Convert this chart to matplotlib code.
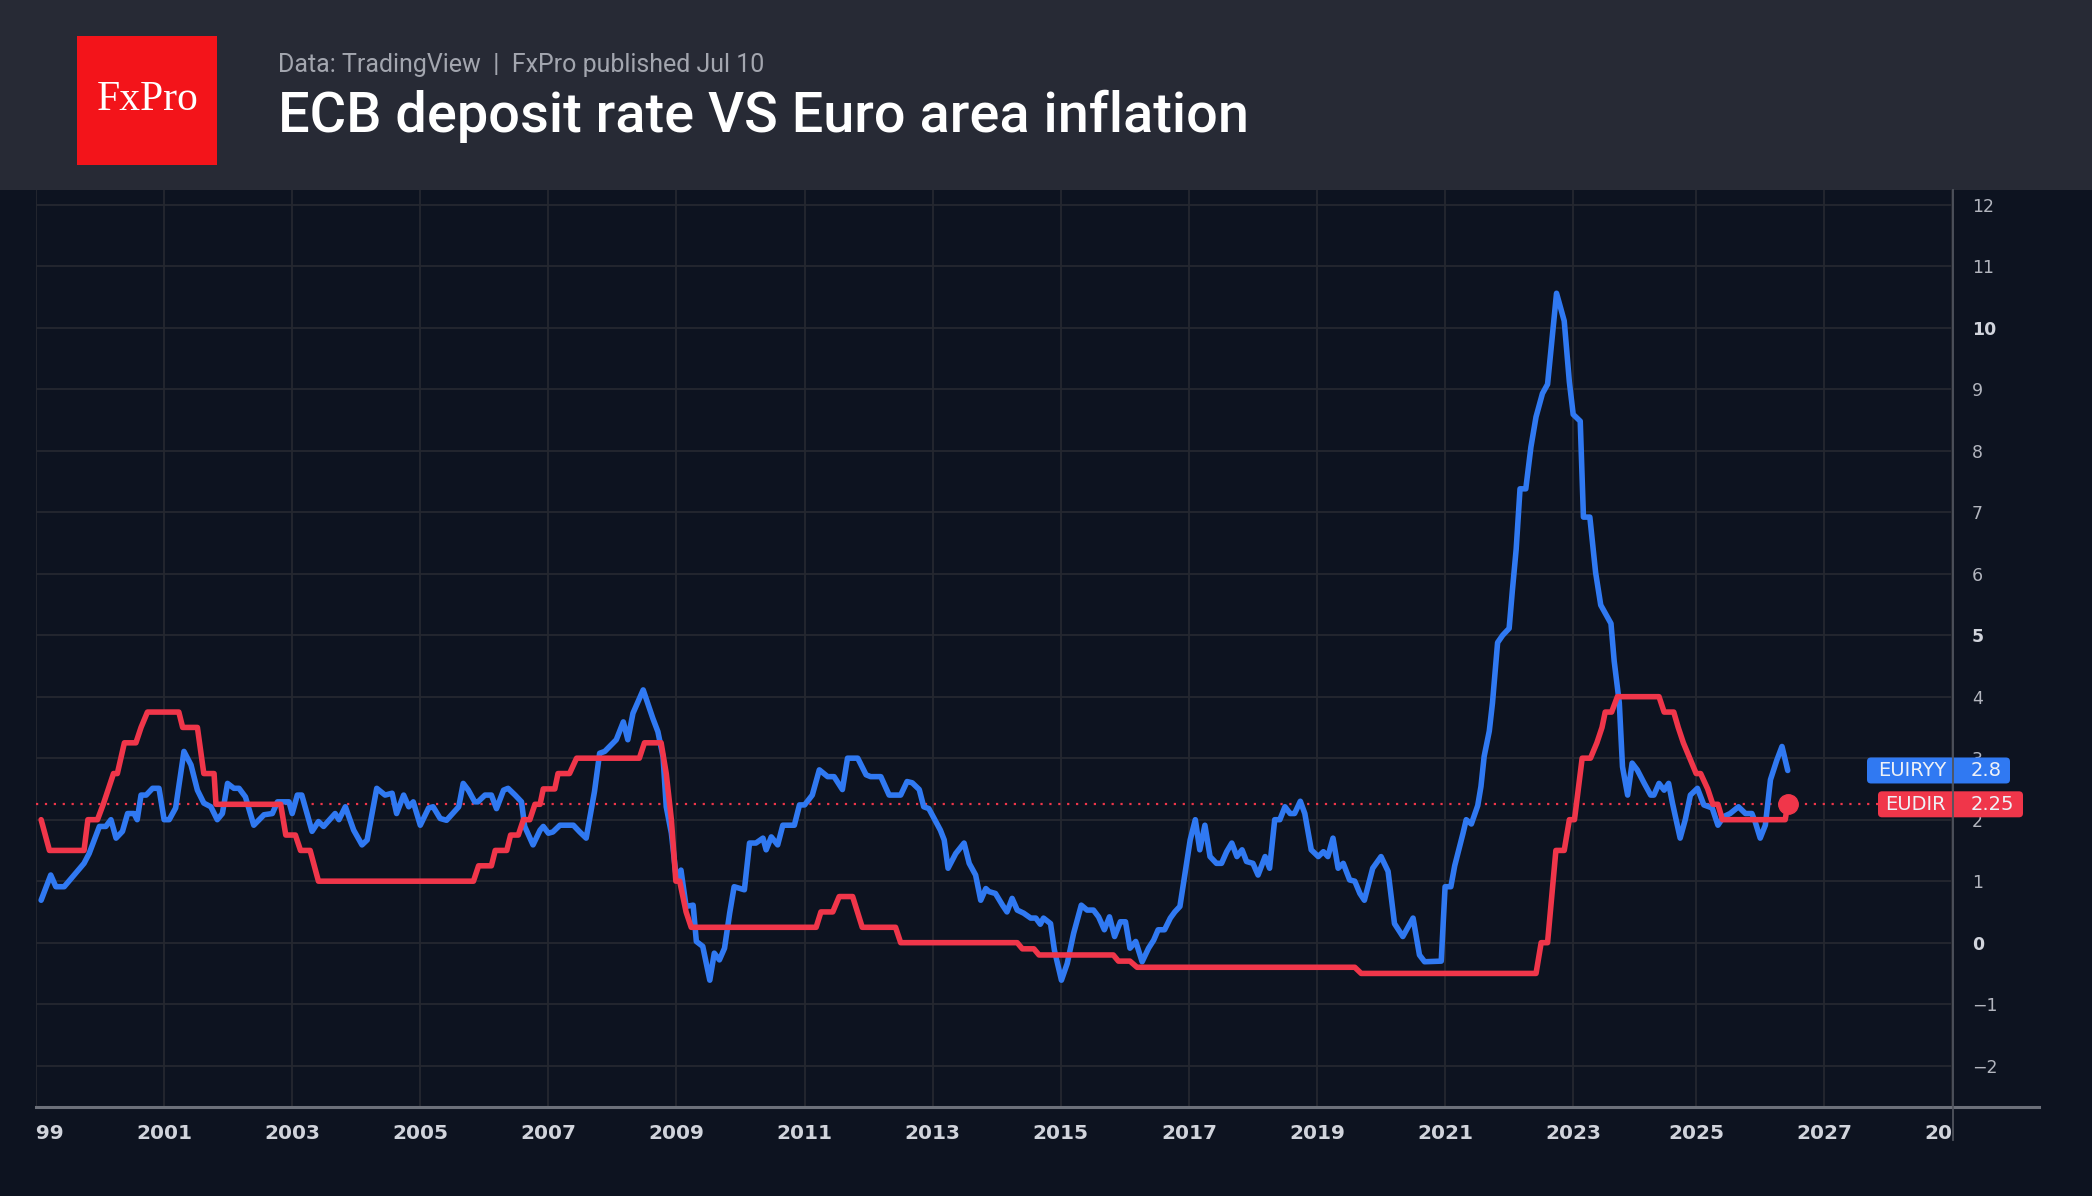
import matplotlib
matplotlib.use("Agg")
import matplotlib.pyplot as plt
from matplotlib.patches import Rectangle, FancyBboxPatch
from matplotlib.lines import Line2D
from matplotlib.transforms import Bbox, TransformedBbox

# Euro area inflation, y/y % (EUIRYY)
infl_x = [1999.08, 1999.23, 1999.31, 1999.44, 1999.75, 1999.83, 1999.99, 2000.09, 2000.17, 2000.25,
          2000.35, 2000.43, 2000.53, 2000.58, 2000.64, 2000.72, 2000.82, 2000.92, 2001.0, 2001.08,
          2001.18, 2001.31, 2001.42, 2001.52, 2001.62, 2001.73, 2001.83, 2001.91, 2001.99, 2002.09,
          2002.17, 2002.27, 2002.40, 2002.56, 2002.69, 2002.77, 2002.95, 2003.0, 2003.08, 2003.15,
          2003.31, 2003.41, 2003.49, 2003.67, 2003.73, 2003.83, 2003.96, 2004.09, 2004.17, 2004.32,
          2004.45, 2004.56, 2004.63, 2004.74, 2004.82, 2004.89, 2005.0, 2005.13, 2005.2, 2005.31,
          2005.41, 2005.6, 2005.67, 2005.75, 2005.85, 2005.9, 2006.01, 2006.11, 2006.19, 2006.3,
          2006.37, 2006.48, 2006.58, 2006.63, 2006.76, 2006.87, 2006.92, 2007.0, 2007.07, 2007.18,
          2007.39, 2007.49, 2007.59, 2007.72, 2007.8, 2007.88, 2008.06, 2008.17, 2008.24, 2008.32,
          2008.48, 2008.63, 2008.71, 2008.79, 2008.84, 2008.92, 2009.0, 2009.07, 2009.15, 2009.26,
          2009.31, 2009.41, 2009.52, 2009.59, 2009.67, 2009.75, 2009.83, 2009.9, 2010.06, 2010.14,
          2010.24, 2010.35, 2010.4, 2010.48, 2010.58, 2010.66, 2010.84, 2010.92, 2011.0, 2011.12,
          2011.23, 2011.36, 2011.46, 2011.59, 2011.67, 2011.83, 2011.96, 2012.03, 2012.19, 2012.32,
          2012.5, 2012.6, 2012.68, 2012.79, 2012.86, 2012.94, 2013.12, 2013.18, 2013.24, 2013.36,
          2013.49, 2013.57, 2013.67, 2013.75, 2013.83, 2013.88, 2013.98, 2014.09, 2014.16, 2014.24,
          2014.32, 2014.42, 2014.53, 2014.61, 2014.68, 2014.73, 2014.84, 2014.9, 2015.01, 2015.1,
          2015.2, 2015.32, 2015.41, 2015.51, 2015.59, 2015.68, 2015.76, 2015.84, 2015.93, 2016.01,
          2016.08, 2016.17, 2016.27, 2016.37, 2016.45, 2016.52, 2016.62, 2016.71, 2016.78, 2016.86,
          2016.94, 2017.02, 2017.1, 2017.17, 2017.25, 2017.33, 2017.43, 2017.51, 2017.59, 2017.67,
          2017.75, 2017.83, 2017.9, 2018.0, 2018.08, 2018.19, 2018.26, 2018.34, 2018.42, 2018.5,
          2018.58, 2018.65, 2018.74, 2018.81, 2018.91, 2019.02, 2019.1, 2019.17, 2019.25, 2019.33,
          2019.41, 2019.51, 2019.59, 2019.67, 2019.74, 2019.87, 2020.0, 2020.11, 2020.21, 2020.34,
          2020.5, 2020.6, 2020.68, 2020.94, 2021.0, 2021.09, 2021.15, 2021.28, 2021.33, 2021.41,
          2021.51, 2021.56, 2021.61, 2021.69, 2021.74, 2021.82, 2021.9, 2022.0, 2022.05, 2022.11,
          2022.17, 2022.26, 2022.34, 2022.42, 2022.52, 2022.6, 2022.74, 2022.86, 2022.94, 2023.0,
          2023.11, 2023.16, 2023.26, 2023.35, 2023.43, 2023.59, 2023.64, 2023.72, 2023.77, 2023.85,
          2023.92, 2024.0, 2024.11, 2024.21, 2024.26, 2024.34, 2024.42, 2024.49, 2024.55, 2024.67,
          2024.75, 2024.83, 2024.94, 2025.04, 2025.17, 2025.26, 2025.35, 2025.45, 2025.58, 2025.69,
          2025.79, 2025.84, 2025.92, 2026.0, 2026.08, 2026.18, 2026.26, 2026.35]
infl_y = [0.69, 1.10, 0.91, 0.91, 1.29, 1.45, 1.89, 1.89, 2.0, 1.7,
          1.81, 2.10, 2.10, 2.0, 2.40, 2.40, 2.51, 2.51, 2.0, 2.0,
          2.19, 3.11, 2.89, 2.48, 2.27, 2.21, 2.0, 2.10, 2.59, 2.51,
          2.51, 2.37, 1.91, 2.08, 2.10, 2.29, 2.29, 2.10, 2.40, 2.40,
          1.81, 1.97, 1.89, 2.10, 2.0, 2.21, 1.83, 1.59, 1.67, 2.51,
          2.40, 2.43, 2.10, 2.40, 2.21, 2.29, 1.91, 2.19, 2.21, 2.02,
          1.99, 2.21, 2.59, 2.48, 2.29, 2.29, 2.40, 2.40, 2.18, 2.48,
          2.51, 2.40, 2.29, 1.89, 1.59, 1.83, 1.89, 1.78, 1.80, 1.91,
          1.91, 1.80, 1.70, 2.46, 3.08, 3.11, 3.30, 3.59, 3.30, 3.73,
          4.11, 3.65, 3.43, 3.02, 2.21, 1.78, 1.02, 1.18, 0.59, 0.61,
          0.02, -0.06, -0.61, -0.17, -0.28, -0.09, 0.48, 0.91, 0.86, 1.62,
          1.62, 1.70, 1.51, 1.72, 1.59, 1.91, 1.91, 2.24, 2.24, 2.40,
          2.81, 2.70, 2.70, 2.49, 3.0, 3.0, 2.73, 2.70, 2.70, 2.40,
          2.40, 2.62, 2.60, 2.49, 2.21, 2.18, 1.83, 1.67, 1.21, 1.45,
          1.62, 1.29, 1.10, 0.69, 0.88, 0.83, 0.80, 0.61, 0.50, 0.72,
          0.53, 0.48, 0.40, 0.40, 0.30, 0.40, 0.31, -0.12, -0.61, -0.34,
          0.15, 0.61, 0.53, 0.53, 0.42, 0.21, 0.42, 0.10, 0.34, 0.34,
          -0.09, 0.02, -0.31, -0.09, 0.04, 0.21, 0.21, 0.40, 0.50, 0.59,
          1.13, 1.67, 2.0, 1.51, 1.91, 1.40, 1.29, 1.29, 1.48, 1.62,
          1.40, 1.51, 1.32, 1.29, 1.10, 1.40, 1.21, 2.0, 2.0, 2.21,
          2.10, 2.10, 2.30, 2.10, 1.51, 1.40, 1.48, 1.40, 1.70, 1.21,
          1.29, 1.02, 1.0, 0.80, 0.69, 1.21, 1.40, 1.16, 0.31, 0.10,
          0.40, -0.20, -0.31, -0.30, 0.91, 0.91, 1.25, 1.78, 2.0, 1.93,
          2.23, 2.54, 3.03, 3.44, 3.90, 4.88, 5.0, 5.11, 5.72, 6.40,
          7.38, 7.38, 8.06, 8.55, 8.93, 9.08, 10.56, 10.11, 9.12, 8.59,
          8.48, 6.92, 6.92, 6.02, 5.49, 5.19, 4.58, 3.90, 2.86, 2.40,
          2.92, 2.81, 2.59, 2.40, 2.40, 2.59, 2.48, 2.59, 2.27, 1.70,
          2.0, 2.40, 2.51, 2.24, 2.19, 1.91, 2.05, 2.10, 2.21, 2.10,
          2.10, 1.97, 1.70, 1.91, 2.65, 2.97, 3.19, 2.8]

# ECB deposit rate % (EUDIR)
rate_x = [1999.08, 1999.21, 1999.75, 1999.81, 1999.96, 2000.05, 2000.13, 2000.21, 2000.27, 2000.38,
          2000.56, 2000.64, 2000.74, 2001.23, 2001.29, 2001.52, 2001.62, 2001.78, 2001.81, 2002.82,
          2002.9, 2003.05, 2003.13, 2003.28, 2003.41, 2005.83, 2005.91, 2006.11, 2006.17, 2006.35,
          2006.41, 2006.53, 2006.61, 2006.71, 2006.79, 2006.87, 2006.92, 2007.1, 2007.15, 2007.33,
          2007.44, 2008.42, 2008.5, 2008.76, 2008.84, 2008.92, 2008.99, 2009.05, 2009.15, 2009.23,
          2011.18, 2011.255, 2011.44, 2011.54, 2011.75, 2011.9, 2012.42, 2012.5, 2014.32, 2014.4,
          2014.58, 2014.66, 2015.82, 2015.9, 2016.08, 2016.19, 2019.59, 2019.69, 2022.42, 2022.5,
          2022.6, 2022.73, 2022.86, 2022.94, 2023.02, 2023.14, 2023.27, 2023.37, 2023.45, 2023.5,
          2023.6, 2023.69, 2024.34, 2024.42, 2024.57, 2024.64, 2024.72, 2024.82, 2024.92, 2024.99,
          2025.1, 2025.18, 2025.26, 2025.33, 2026.31, 2026.35]
rate_y = [2.0, 1.5, 1.5, 2.0, 2.0, 2.25, 2.5, 2.75, 2.75, 3.25,
          3.25, 3.5, 3.75, 3.75, 3.5, 3.5, 2.75, 2.75, 2.25, 2.25,
          1.75, 1.75, 1.5, 1.5, 1.0, 1.0, 1.25, 1.25, 1.5, 1.5,
          1.75, 1.75, 2.0, 2.0, 2.25, 2.25, 2.5, 2.5, 2.75, 2.75,
          3.0, 3.0, 3.25, 3.25, 2.75, 2.0, 1.0, 1.0, 0.5, 0.25,
          0.25, 0.5, 0.5, 0.75, 0.75, 0.25, 0.25, 0.0, 0.0, -0.1,
          -0.1, -0.2, -0.2, -0.3, -0.3, -0.4, -0.4, -0.5, -0.5, 0.0,
          0.0, 1.5, 1.5, 2.0, 2.0, 3.0, 3.0, 3.25, 3.5, 3.75,
          3.75, 4.0, 4.0, 3.75, 3.75, 3.5, 3.25, 3.0, 2.75, 2.75,
          2.5, 2.25, 2.25, 2.0, 2.0, 2.25]

year_ticks = [1999, 2001, 2003, 2005, 2007, 2009, 2011, 2013, 2015, 2017, 2019, 2021, 2023,
              2024.92, 2026.92, 2028.92]
year_labels = ['1999', '2001', '2003', '2005', '2007', '2009', '2011', '2013', '2015', '2017',
               '2019', '2021', '2023', '2025', '2027', '2029']
value_ticks = list(range(-2, 13))

W, H = 2092, 1196
BG = '#0d1320'
HEADER = '#272a35'
GRID = '#252830'
BLUE = '#3079f2'
RED = '#f0364a'


def fx(px):
    return px / W


def fy(py):
    return 1 - py / H


fig = plt.figure(figsize=(W / 100, H / 100), dpi=100, facecolor=BG)

# Header band, logo and titles
fig.add_artist(Rectangle((0, fy(190)), 1, 190 / H, transform=fig.transFigure,
                         facecolor=HEADER, edgecolor='none', zorder=0))
fig.add_artist(Rectangle((fx(77), fy(165)), fx(140), 129 / H, transform=fig.transFigure,
                         facecolor='#f3141a', edgecolor='none', zorder=1))
fig.text(fx(148), fy(100), 'FxPro', ha='center', va='center', color='white',
         family='Liberation Serif', fontsize=30)
fig.text(fx(278), fy(72), 'Data: TradingView  |  FxPro published Jul 10', ha='left', va='baseline',
         color='#a3a6af', family='Roboto', fontsize=18)
fig.text(fx(278), fy(132), 'ECB deposit rate VS Euro area inflation', ha='left', va='baseline',
         color='white', family='Roboto', fontweight='medium', fontsize=40.2)

# Main chart area
ax = fig.add_axes([fx(36), fy(1107), fx(1953 - 36), (1107 - 190) / H])
ax.set_facecolor(BG)
for s in ax.spines.values():
    s.set_visible(False)
ax.set_xlim(1999.069, 2028.93)
ax.set_ylim(-2.672, 12.239)

for v in value_ticks:
    ax.axhline(v, color=GRID, lw=1.3, zorder=1)
for t in year_ticks:
    ax.axvline(t, color=GRID, lw=1.3, zorder=1)

ax.axhline(rate_y[-1], xmin=0, xmax=(1878 - 36) / (1953 - 36), color=RED, lw=1.6,
           ls=(0, (1, 3)), zorder=2)
ax.plot(infl_x, infl_y, color=BLUE, lw=4, solid_joinstyle='round', solid_capstyle='round', zorder=3)
ax.plot(rate_x, rate_y, color=RED, lw=4, solid_joinstyle='round', solid_capstyle='round', zorder=4)
ax.plot(rate_x[-1], rate_y[-1], 'o', ms=14, color=RED, zorder=5)

# Right price scale
ax.yaxis.tick_right()
ax.set_yticks(value_ticks)
ax.set_yticklabels([str(v).replace('-', '\u2212') for v in value_ticks])
ax.tick_params(axis='y', length=0, pad=13.5, labelsize=12.5, labelcolor='#b2b5be')
for lbl, v in zip(ax.get_yticklabels(), value_ticks):
    if v in (0, 5, 10):
        lbl.set_fontweight('bold')
        lbl.set_color('#d1d4dc')

# Time scale, labels clipped to the pane like TradingView
ax.set_xticks(year_ticks)
ax.set_xticklabels(year_labels)
ax.tick_params(axis='x', length=0, pad=12, labelsize=14.5, labelcolor='#d1d4dc')
clip = TransformedBbox(Bbox([[fx(36), 0], [fx(1953), 1]]), fig.transFigure)
for lbl in ax.get_xticklabels():
    lbl.set_fontweight('bold')
    lbl.set_clip_on(True)
    lbl.set_clip_box(clip)


def tag(value, x0, x1, color, name, text):
    yc = ax.transData.transform((2000, value))[1] / 100
    h = 0.26
    fig.add_artist(FancyBboxPatch((x0 / 100, yc - h / 2), (x1 - x0) / 100, h,
                                  boxstyle='round,pad=0,rounding_size=0.04',
                                  transform=fig.dpi_scale_trans, facecolor=color,
                                  edgecolor='none', zorder=5))
    fig.text(19.46, yc, name, ha='right', va='center', color='#eef1f7', fontsize=14,
             transform=fig.dpi_scale_trans, zorder=7)
    fig.text(19.71, yc, text, ha='left', va='center', color='#eef1f7', fontsize=14,
             transform=fig.dpi_scale_trans, zorder=7)


tag(infl_y[-1], 1867, 2010, BLUE, 'EUIRYY', '2.8')
tag(rate_y[-1], 1878, 2023, RED, 'EUDIR', '2.25')

# Axis borders
fig.add_artist(Line2D([fx(36), fx(2039)], [fy(1107), fy(1107)], transform=fig.transFigure,
                      color='#6c707a', lw=2.2, zorder=6))
fig.add_artist(Line2D([fx(1953), fx(1953)], [fy(190), fy(1140)], transform=fig.transFigure,
                      color='#50545e', lw=1.3, zorder=6))

fig.savefig('out.png', dpi=100, facecolor=BG)
